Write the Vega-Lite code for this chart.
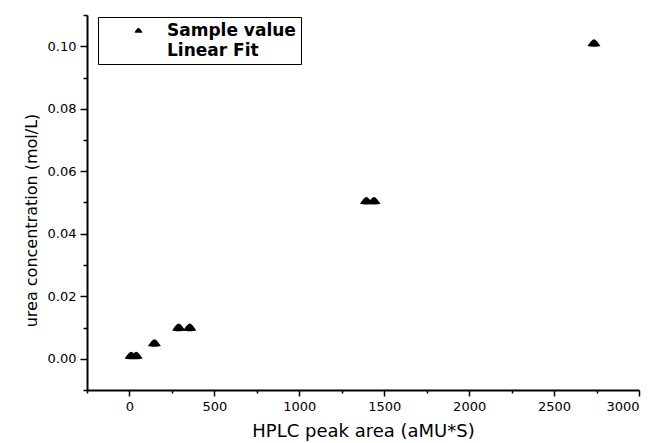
{
  "$schema": "https://vega.github.io/schema/vega-lite/v6.json",
  "width": 552,
  "height": 375,
  "autosize": {"type": "none"},
  "padding": {"left": 87, "top": 15, "right": 20, "bottom": 53},
  "background": "white",
  "config": {
    "view": {"stroke": null},
    "font": "DejaVu Sans",
    "axis": {
      "domainColor": "black",
      "domainWidth": 2,
      "tickColor": "black",
      "tickWidth": 1.5,
      "labelColor": "black",
      "titleColor": "black",
      "grid": false,
      "labelFont": "DejaVu Sans",
      "titleFont": "DejaVu Sans",
      "titleFontWeight": "normal"
    }
  },
  "data": {
    "values": [
      {"area": 10, "conc": 0.001, "series": "Sample value"},
      {"area": 40, "conc": 0.001, "series": "Sample value"},
      {"area": 147, "conc": 0.005, "series": "Sample value"},
      {"area": 290, "conc": 0.01, "series": "Sample value"},
      {"area": 355, "conc": 0.01, "series": "Sample value"},
      {"area": 1395, "conc": 0.0505, "series": "Sample value"},
      {"area": 1440, "conc": 0.0505, "series": "Sample value"},
      {"area": 2735, "conc": 0.101, "series": "Sample value"}
    ]
  },
  "layer": [
    {
      "mark": {"type": "point", "opacity": 0},
      "encoding": {
        "x": {
          "field": "area", "type": "quantitative",
          "scale": {"domain": [-250, 3000], "nice": false, "zero": false},
          "axis": {
            "orient": "bottom",
            "values": [-250, 250, 750, 1250, 1750, 2250, 2750],
            "labels": false, "title": null, "tickSize": 3, "domain": false
          }
        },
        "y": {
          "field": "conc", "type": "quantitative",
          "scale": {"domain": [-0.01, 0.11], "nice": false, "zero": false},
          "axis": {
            "orient": "left",
            "values": [-0.01, 0.01, 0.03, 0.05, 0.07, 0.09, 0.11],
            "labels": false, "title": null, "tickSize": 4, "domain": false
          }
        }
      }
    },
    {
      "mark": {"type": "point", "shape": "M-1,0.45C-0.6,-0.1,-0.25,-0.6,0,-0.6C0.25,-0.6,0.6,-0.1,1,0.45C0.5,0.6,-0.5,0.6,-1,0.45Z", "filled": true, "size": 170, "opacity": 1},
      "encoding": {
        "x": {
          "field": "area", "type": "quantitative",
          "axis": {
            "orient": "bottom",
            "title": "HPLC peak area (aMU*S)",
            "titleFontSize": 18, "titlePadding": 9,
            "values": [0, 500, 1000, 1500, 2000, 2500, 3000],
            "format": "d",
            "labelFontSize": 13, "tickSize": 6, "labelPadding": 4
          }
        },
        "y": {
          "field": "conc", "type": "quantitative",
          "axis": {
            "orient": "left",
            "title": "urea concentration (mol/L)",
            "titleFontSize": 16, "titlePadding": 8,
            "titleY": 205,
            "values": [0, 0.02, 0.04, 0.06, 0.08, 0.1],
            "format": ".2f",
            "labelFontSize": 13, "tickSize": 7, "labelPadding": 4
          }
        },
        "color": {
          "field": "series", "type": "nominal",
          "scale": {"domain": ["Sample value", "Linear Fit"], "range": ["black", "transparent"]},
          "legend": {
            "title": null,
            "orient": "none",
            "legendX": 11,
            "legendY": 2,
            "direction": "vertical",
            "strokeColor": "black",
            "fillColor": "white",
            "padding": 5,
            "symbolType": "M-1,0.45C-0.6,-0.1,-0.25,-0.6,0,-0.6C0.25,-0.6,0.6,-0.1,1,0.45C0.5,0.6,-0.5,0.6,-1,0.45Z",
            "symbolSize": 70,
            "symbolOffset": 27,
            "symbolStrokeWidth": 0,
            "labelFontSize": 17,
            "labelFontWeight": "bold",
            "labelFont": "DejaVu Sans",
            "labelColor": "black",
            "labelOffset": 20,
            "rowPadding": 2,
            "labelLimit": 300
          }
        }
      }
    }
  ],
  "resolve": {"axis": {"x": "independent", "y": "independent"}}
}
